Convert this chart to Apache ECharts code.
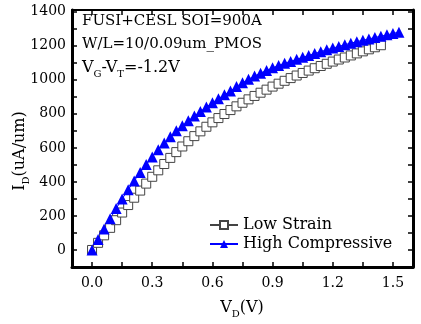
<!DOCTYPE html>
<html lang="en">
<head>
	<meta charset="UTF-8">
	<title>Id-Vd PMOS</title>
	<style>
		html, body{
			margin: 0;
			padding: 0;
			background: #fff;
		}
		#main{
			width: 421px;
			height: 324px;
		}
	</style>
	<script src="https://cdn.jsdelivr.net/npm/echarts@6/dist/echarts.min.js"></script>
</head>
<body>
	<div id="main"></div>

	<script>
		// V_D (V) sweep, both curves share the same 0.03 V step
		var vdLow = [0.00,0.03,0.06,0.09,0.12,0.15,0.18,0.21,0.24,0.27,0.30,0.33,0.36,0.39,0.42,0.45,0.48,0.51,0.54,0.57,0.60,0.63,0.66,0.69,0.72,0.75,0.78,0.81,0.84,0.87,0.90,0.93,0.96,0.99,1.02,1.05,1.08,1.11,1.14,1.17,1.20,1.23,1.26,1.29,1.32,1.35,1.38,1.41,1.44];
		var idLow = [0,42,86,130,175,220,264,307,349,390,430,468,505,541,575,608,639,669,697,724,750,775,799,822,844,865,885,905,924,942,960,977,994,1010,1025,1040,1054,1068,1081,1094,1107,1119,1131,1143,1155,1167,1179,1191,1203];

		var vdHigh = [0.00,0.03,0.06,0.09,0.12,0.15,0.18,0.21,0.24,0.27,0.30,0.33,0.36,0.39,0.42,0.45,0.48,0.51,0.54,0.57,0.60,0.63,0.66,0.69,0.72,0.75,0.78,0.81,0.84,0.87,0.90,0.93,0.96,0.99,1.02,1.05,1.08,1.11,1.14,1.17,1.20,1.23,1.26,1.29,1.32,1.35,1.38,1.41,1.44,1.47,1.50,1.53];
		var idHigh = [0,62,124,184,243,300,354,406,455,502,547,589,628,665,700,730,759,787,814,840,865,889,912,934,960,982,1003,1022,1039,1055,1070,1084,1097,1108,1120,1132,1143,1154,1165,1176,1186,1196,1206,1215,1224,1232,1240,1248,1256,1264,1272,1280];

		// 刻度
		var xTicks = [0,0.15,0.3,0.45,0.6,0.75,0.9,1.05,1.2,1.35,1.5];
		var xLabels = [0,0.3,0.6,0.9,1.2,1.5];
		var yTicks = [0,100,200,300,400,500,600,700,800,900,1000,1100,1200,1300,1400];
		var yLabels = [0,200,400,600,800,1000,1200,1400];

		var seriesNames = ['Low Strain','High Compressive'];

		function pairs(xs, ys){
			var out = [];
			for (var i = 0; i < xs.length; i++) {
				out.push([xs[i], ys[i]]);
			}
			return out;
		}

		var font = 'DejaVu Serif';
		var subRich = {
			n: {fontSize: 16, fontFamily: font, color: '#000', lineHeight: 22, verticalAlign: 'middle'},
			s: {fontSize: 10, fontFamily: font, color: '#000', lineHeight: 10, verticalAlign: 'bottom'}
		};

		var myChart = echarts.init(document.getElementById('main'), null, {renderer: 'canvas'});

		var tickStyle = {show: true, inside: true, length: 5, lineStyle: {color: '#000', width: 1.5}};

		var option = {
			animation: false,
			backgroundColor: '#fff',
			grid: {left: 72, right: 8, top: 10, bottom: 57},
			legend: {
				orient: 'vertical',
				left: 204,
				top: 212,
				itemWidth: 28,
				itemHeight: 10,
				itemGap: 3,
				data: seriesNames,
				textStyle: {fontFamily: font, fontSize: 16, color: '#000'}
			},
			xAxis: [{
				type: 'value',
				min: -0.1,
				max: 1.6,
				position: 'bottom',
				axisLine: {onZero: false, lineStyle: {color: '#000', width: 3}},
				axisTick: Object.assign({customValues: xTicks}, tickStyle),
				axisLabel: {
					customValues: xLabels,
					margin: 9,
					fontFamily: font,
					fontSize: 14,
					color: '#000',
					formatter: function(v){ return v.toFixed(1); }
				},
				splitLine: {show: false}
			},{
				type: 'value',
				min: -0.1,
				max: 1.6,
				position: 'top',
				axisLine: {onZero: false, lineStyle: {color: '#000', width: 2}},
				axisTick: Object.assign({customValues: xTicks}, tickStyle),
				axisLabel: {show: false},
				splitLine: {show: false}
			}],
			yAxis: [{
				type: 'value',
				min: -100,
				max: 1410,
				position: 'left',
				axisLine: {show: true, onZero: false, lineStyle: {color: '#000', width: 3}},
				axisTick: Object.assign({customValues: yTicks}, tickStyle),
				axisLabel: {
					customValues: yLabels,
					margin: 6,
					fontFamily: font,
					fontSize: 14,
					color: '#000',
					formatter: function(v){ return String(v); }
				},
				splitLine: {show: false}
			},{
				type: 'value',
				min: -100,
				max: 1410,
				position: 'right',
				axisLine: {show: true, onZero: false, lineStyle: {color: '#000', width: 3}},
				axisTick: Object.assign({customValues: yTicks}, tickStyle),
				axisLabel: {show: false},
				splitLine: {show: false}
			}],
			graphic: [{
				type: 'text',
				left: 82,
				top: 14,
				style: {text: 'FUSI+CESL SOI=900A', font: '15px "DejaVu Serif"', fill: '#000'}
			},{
				type: 'text',
				left: 82,
				top: 37,
				style: {text: 'W/L=10/0.09um_PMOS', font: '15px "DejaVu Serif"', fill: '#000'}
			},{
				type: 'text',
				x: 82,
				y: 68,
				style: {
					text: '{n|V}{s|G}{n|-V}{s|T}{n|=-1.2V}',
					rich: subRich,
					align: 'left',
					verticalAlign: 'middle'
				}
			},{
				type: 'text',
				x: 242,
				y: 308,
				style: {
					text: '{n|V}{s|D}{n|(V)}',
					rich: subRich,
					align: 'center',
					verticalAlign: 'middle'
				}
			},{
				type: 'text',
				x: 20,
				y: 151,
				rotation: Math.PI / 2,
				style: {
					text: '{n|I}{s|D}{n|(uA/um)}',
					rich: subRich,
					align: 'center',
					verticalAlign: 'middle'
				}
			}],
			series: [{
				name: seriesNames[0],
				type: 'line',
				data: pairs(vdLow, idLow),
				symbol: 'rect',
				symbolSize: 9,
				showAllSymbol: true,
				itemStyle: {color: '#fff', borderColor: '#444', borderWidth: 1},
				lineStyle: {color: '#444', width: 1}
			},{
				name: seriesNames[1],
				type: 'line',
				data: pairs(vdHigh, idHigh),
				symbol: 'triangle',
				symbolSize: 11,
				showAllSymbol: true,
				itemStyle: {color: '#0000ff'},
				lineStyle: {color: '#0000ff', width: 1}
			}]
		};

		myChart.setOption(option);
	</script>
</body>
</html>
